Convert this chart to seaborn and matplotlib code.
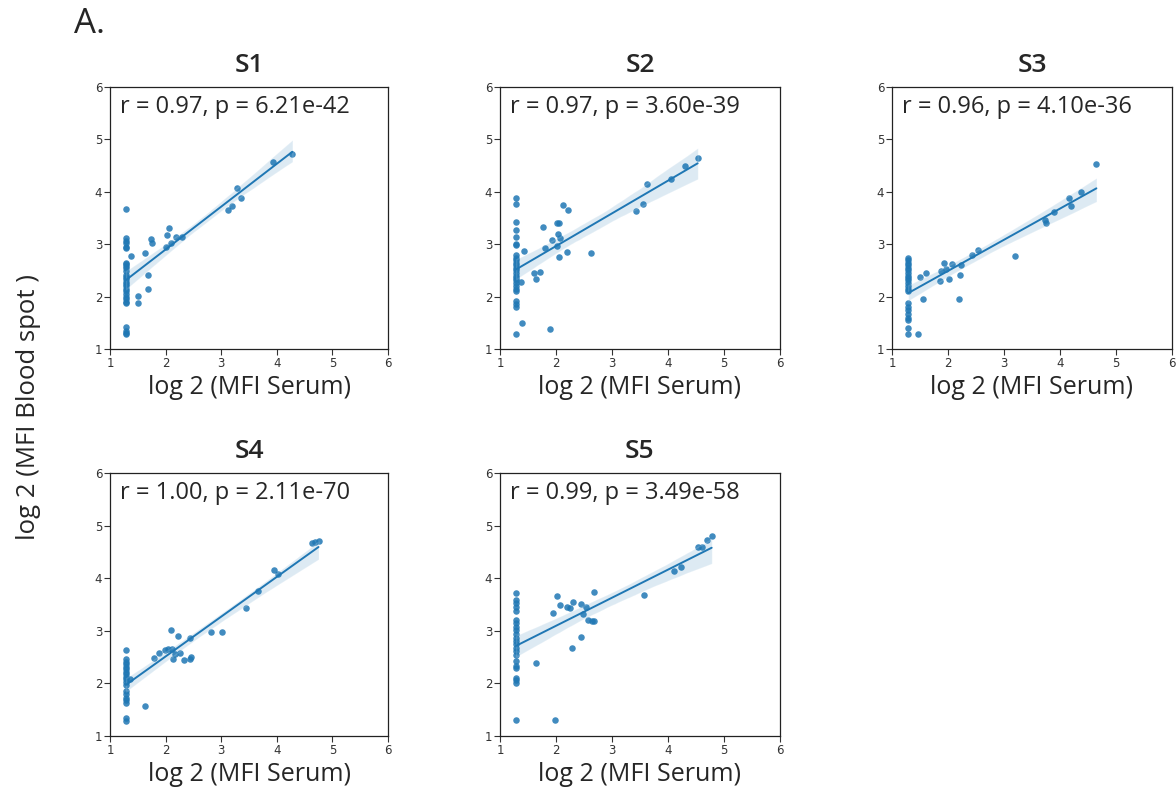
import matplotlib
matplotlib.use("Agg")
import matplotlib.pyplot as plt
import seaborn as sns
import numpy as np
import pandas as pd

# ---------------- data ----------------
panels = ["S1", "S2", "S3", "S4", "S5"]
stats_text = ["r = 0.97, p = 6.21e-42", "r = 0.97, p = 3.60e-39",
              "r = 0.96, p = 4.10e-36", "r = 1.00, p = 2.11e-70",
              "r = 0.99, p = 3.49e-58"]

s1_col_y = [3.67, 3.12, 3.07, 3.02, 2.95, 2.92, 2.65, 2.62, 2.58, 2.55, 2.48,
            2.42, 2.38, 2.33, 2.28, 2.24, 2.20, 2.15, 2.10, 2.05, 2.00, 1.95,
            1.90, 1.88, 1.42, 1.35, 1.30, 1.28]
s1_x = [1.37, 1.50, 1.51, 1.63, 1.69, 1.69, 1.73, 1.75, 2.00, 2.02, 2.07, 2.10,
        2.19, 2.29, 3.13, 3.19, 3.28, 3.36, 3.93, 4.28]
s1_y = [2.78, 2.01, 1.87, 2.83, 2.42, 2.15, 3.10, 3.03, 2.95, 3.17, 3.30, 3.02,
        3.14, 3.14, 3.66, 3.72, 4.07, 3.88, 4.56, 4.72]

s2_col_y = [3.88, 3.76, 3.43, 3.27, 3.14, 3.01, 2.98, 2.79, 2.74, 2.69, 2.64,
            2.60, 2.54, 2.50, 2.45, 2.40, 2.35, 2.31, 2.26, 2.21, 2.15, 2.10,
            1.91, 1.86, 1.81, 1.28]
s2_x = [1.38, 1.40, 1.43, 1.61, 1.64, 1.71, 1.76, 1.80, 1.90, 1.92, 2.02, 2.02,
        2.04, 2.05, 2.06, 2.08, 2.13, 2.19, 2.22, 2.62, 3.42, 3.56, 3.63, 4.06,
        4.31, 4.53]
s2_y = [2.28, 1.49, 2.87, 2.45, 2.33, 2.47, 3.33, 2.92, 1.38, 3.08, 2.96, 3.40,
        3.19, 2.76, 3.41, 3.11, 3.75, 2.85, 3.65, 2.84, 3.63, 3.77, 4.15, 4.25,
        4.49, 4.65]

s3_col_y = [2.74, 2.69, 2.64, 2.60, 2.54, 2.50, 2.45, 2.40, 2.35, 2.31, 2.26,
            2.21, 2.15, 2.10, 1.87, 1.81, 1.74, 1.67, 1.60, 1.55, 1.41, 1.28]
s3_x = [1.46, 1.50, 1.55, 1.60, 1.86, 1.87, 1.92, 1.96, 2.01, 2.07, 2.19, 2.21,
        2.23, 2.42, 2.53, 3.20, 3.74, 3.75, 3.90, 4.16, 4.20, 4.38, 4.65]
s3_y = [1.28, 2.37, 1.96, 2.45, 2.29, 2.49, 2.64, 2.53, 2.33, 2.63, 1.96, 2.42,
        2.60, 2.79, 2.88, 2.77, 3.46, 3.40, 3.62, 3.88, 3.73, 3.99, 4.54]

s4_col_y = [2.64, 2.46, 2.41, 2.36, 2.31, 2.27, 2.22, 2.17, 2.12, 2.08, 2.03,
            1.97, 1.85, 1.79, 1.73, 1.68, 1.63, 1.34, 1.29]
s4_x = [1.36, 1.63, 1.80, 1.89, 1.99, 2.05, 2.10, 2.11, 2.14, 2.17, 2.22, 2.25,
        2.33, 2.43, 2.43, 2.45, 2.81, 3.01, 3.45, 3.67, 3.95, 4.03, 4.63, 4.69,
        4.75]
s4_y = [2.09, 1.57, 2.49, 2.57, 2.63, 2.66, 3.01, 2.65, 2.46, 2.55, 2.90, 2.57,
        2.44, 2.86, 2.46, 2.51, 2.97, 2.98, 3.44, 3.76, 4.15, 4.08, 4.67, 4.69,
        4.70]

s5_col_y = [3.71, 3.59, 3.52, 3.46, 3.38, 3.20, 3.14, 3.08, 3.01, 2.94, 2.87,
            2.81, 2.75, 2.68, 2.62, 2.54, 2.43, 2.33, 2.29, 2.11, 2.06, 2.01,
            1.31]
s5_x = [1.65, 1.95, 1.99, 2.02, 2.07, 2.19, 2.25, 2.28, 2.31, 2.44, 2.45, 2.49,
        2.54, 2.58, 2.64, 2.68, 2.67, 3.57, 4.11, 4.23, 4.53, 4.60, 4.69, 4.78]
s5_y = [2.38, 3.34, 1.31, 3.66, 3.50, 3.45, 3.43, 2.67, 3.54, 2.88, 3.51, 3.32,
        3.46, 3.20, 3.18, 3.18, 3.73, 3.69, 4.13, 4.21, 4.59, 4.60, 4.73, 4.81]

floor_x = 1.29  # x value of the vertical column of points (detection floor)

col_ys = [s1_col_y, s2_col_y, s3_col_y, s4_col_y, s5_col_y]
xs = [s1_x, s2_x, s3_x, s4_x, s5_x]
ys = [s1_y, s2_y, s3_y, s4_y, s5_y]

ticks = [1, 2, 3, 4, 5, 6]

# ---------------- figure ----------------
sns.set_theme(style="ticks")
plt.rcParams["font.family"] = ["Open Sans", "DejaVu Sans"]

W, H = 1176, 794
fig = plt.figure(figsize=(W / 100, H / 100), dpi=100)
fig.patch.set_facecolor("white")

# axes boxes in pixels: (left, top, width, height)
boxes = [(110, 87, 278, 262), (500, 87, 280, 262), (892, 87, 280, 262),
         (110, 473, 278, 263), (500, 473, 280, 263)]

blue = "#1f77b4"
for i, name in enumerate(panels):
    l, t, w, h = boxes[i]
    ax = fig.add_axes([l / W, 1 - (t + h) / H, w / W, h / H])
    df = pd.DataFrame({
        "serum": [floor_x] * len(col_ys[i]) + xs[i],
        "spot": col_ys[i] + ys[i],
    })
    sns.regplot(data=df, x="serum", y="spot", ax=ax, color=blue, seed=0,
                scatter_kws=dict(s=22, alpha=0.85, linewidths=0),
                line_kws=dict(lw=1.4))
    ax.set_xlim(1, 6)
    ax.set_ylim(1, 6)
    ax.set_xticks(ticks)
    ax.set_yticks(ticks)
    ax.tick_params(labelsize=8.5, length=4, width=0.8, colors="#333333",
                   pad=1.5)
    for lab in ax.get_xticklabels() + ax.get_yticklabels():
        lab.set_fontfamily("DejaVu Sans")
    for sp in ax.spines.values():
        sp.set_color("#222222")
        sp.set_linewidth(0.9)
    ax.set_title(name, fontsize=19, fontweight="semibold", pad=11)
    ax.set_xlabel("log 2 (MFI Serum)", fontsize=18, labelpad=4)
    ax.set_ylabel("")
    ax.text(0.035, 0.97, stats_text[i], transform=ax.transAxes,
            ha="left", va="top", fontsize=17)

fig.text(29 / W, 1 - 540 / H, "log 2 (MFI Blood spot )", rotation=90,
         ha="center", va="bottom", fontsize=18.5)
fig.text(74 / W, 1 - 24 / H, "A.", ha="left", va="center", fontsize=25)

fig.savefig("out.png", dpi=100, facecolor="white")
